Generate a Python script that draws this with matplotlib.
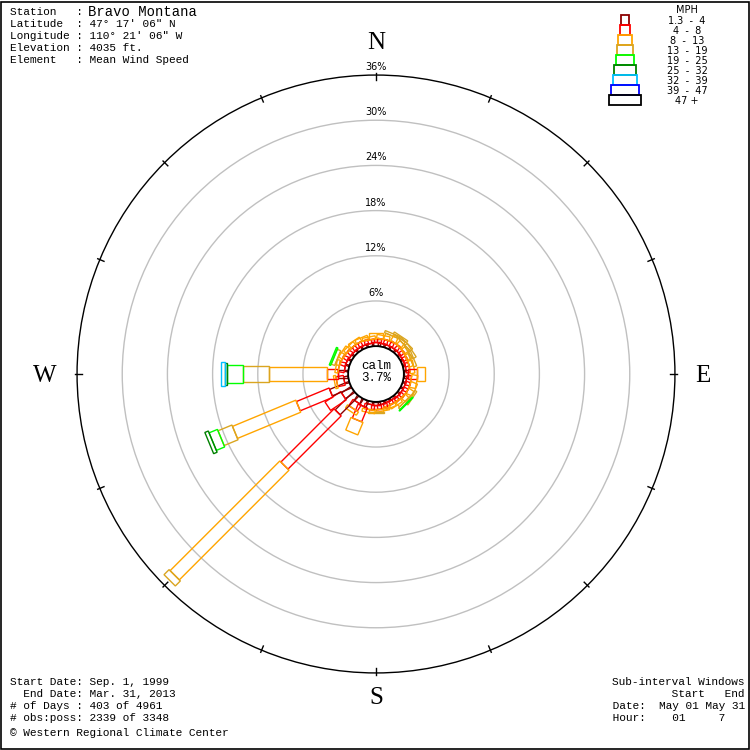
import numpy as np
import matplotlib.pyplot as plt
from matplotlib.patches import Polygon, Circle, Rectangle

# station data
calm = 3.7
directions = np.arange(32) * 11.25
speed_labels = ['1.3 - 4', '4 - 8', '8 - 13', '13 - 19', '19 - 25',
                '25 - 32', '32 - 39', '39 - 47', '47 +']
colors = ['#8b0000', '#ff0000', '#ffa500', '#daa520', '#00ff00',
          '#008000', '#00bfff', '#0000ff', '#000000']
box_width = [0.93, 1.33, 1.73, 2.12, 2.52, 3.05, 3.32, 3.85, 4.25]

# percent of obs per direction for each speed class
s1 = [0.5, 0.4, 0.4, 0.4, 0.4, 0.3, 0.3, 0.3, 0.5, 0.4, 0.4, 0.4, 0.4, 0.3, 0.3, 0.4,
      0.4, 0.4, 0.9, 0.8, 3.5, 1.5, 2.77, 0.6, 1.35, 0.5, 0.5, 0.4, 0.4, 0.4, 0.4, 0.4]
s2 = [0.5, 0.6, 0.6, 0.7, 0.6, 0.6, 0.5, 0.5, 1.3, 0.6, 0.6, 0.6, 0.5, 0.5, 0.5, 0.6,
      0.6, 0.7, 2.0, 1.0, 10.0, 2.5, 4.7, 1.0, 1.45, 0.8, 0.7, 0.7, 0.6, 0.6, 0.6, 0.5]
s3 = [0.8, 0.5, 0.8, 0.9, 0.7, 0.6, 0.5, 0.6, 1.0, 0.8, 0.9, 0.8, 0.7, 0.5, 0.4, 0.3,
      0.3, 0.4, 1.8, 0.5, 20.6, 0.0, 9.1, 0.3, 7.7, 0.4, 0.6, 0.6, 0.5, 0.6, 0.5, 0.4]
s4 = [0.0, 0.0, 0.3, 0.3, 0.4, 0.5, 0.4, 0.0, 0.0, 0.0, 0.0, 0.3, 0.3, 0.0, 0.0, 0.0,
      0.2, 0.0, 0.0, 0.0, 0.95, 0.0, 2.0, 0.0, 3.45, 0.0, 0.5, 0.0, 0.0, 0.0, 0.0, 0.0]
s5 = [0, 0, 0, 0, 0, 0, 0, 0, 0, 0, 0, 0, 0.1, 0, 0, 0,
      0, 0, 0, 0, 0, 0, 1.2, 0, 2.13, 0, 0.2, 0, 0, 0, 0, 0]
s6 = [0, 0, 0, 0, 0, 0, 0, 0, 0, 0, 0, 0, 0, 0, 0, 0,
      0, 0, 0, 0, 0, 0, 0.5, 0, 0.3, 0, 0, 0, 0, 0, 0, 0]
s7 = [0, 0, 0, 0, 0, 0, 0, 0, 0, 0, 0, 0, 0, 0, 0, 0,
      0, 0, 0, 0, 0, 0, 0, 0, 0.45, 0, 0, 0, 0, 0, 0, 0]
s8 = [0] * 32
s9 = [0] * 32
speeds = [s1, s2, s3, s4, s5, s6, s7, s8, s9]

rings = [6, 12, 18, 24, 30, 36]
mono = 'Liberation Mono'

fig = plt.figure(figsize=(7.5, 7.5), dpi=100)
ax = fig.add_axes([0, 0, 1, 1])
scale = 7.53  # px per percent
ax.set_xlim(-376 / scale, 374 / scale)
ax.set_ylim(-376 / scale, 374 / scale)
ax.set_aspect('equal')
ax.axis('off')

# rings
for r in rings:
    col = 'black' if r == rings[-1] else '#c0c0c0'
    ax.add_patch(Circle((0, 0), calm + r, fill=False, ec=col, lw=1))
    ax.text(0, calm + r + 0.4, f'{r}%', ha='center', va='bottom',
            fontsize=7, family='DejaVu Sans')

# ticks on outer ring
R = calm + rings[-1]
for a in np.arange(0, 360, 22.5):
    t = np.radians(a)
    ax.plot([(R + 0.3) * np.sin(t), (R - 0.6) * np.sin(t)],
            [(R + 0.3) * np.cos(t), (R - 0.6) * np.cos(t)], color='black', lw=1)

# rose boxes
for i, d in enumerate(directions):
    t = np.radians(d)
    u = np.array([np.sin(t), np.cos(t)])
    v = np.array([np.cos(t), -np.sin(t)])
    cum = 0
    for k in range(len(speeds)):
        p = speeds[k][i]
        if p <= 0:
            continue
        ra, rb = calm + cum, calm + cum + p
        w = box_width[k] / 2
        pts = [u * ra + v * w, u * rb + v * w, u * rb - v * w, u * ra - v * w]
        ax.add_patch(Polygon(pts, closed=True, fill=False, ec=colors[k], lw=1))
        cum += p

ax.add_patch(Circle((0, 0), calm, fc='white', ec='black', lw=1.3, zorder=5))
ax.text(0, 0.3, 'calm', ha='center', va='bottom', fontsize=9, family=mono, zorder=6)
ax.text(0, 0.2, f'{calm}%', ha='center', va='top', fontsize=9, family=mono, zorder=6)

# compass letters
for lab, x, y in [('N', 376, 43), ('S', 376, 698), ('W', 45, 376), ('E', 703, 376)]:
    fig.text(x / 750, 1 - y / 750, lab, ha='center', va='center',
             fontsize=18, family='Liberation Serif')

# header text
hdr = ['Latitude  : 47° 17\' 06" N', 'Longitude : 110° 21\' 06" W',
       'Elevation : 4035 ft.', 'Element   : Mean Wind Speed']
fig.text(10 / 750, 1 - 12 / 750, 'Station   :', family=mono, fontsize=8, va='center')
fig.text(88 / 750, 1 - 12 / 750, 'Bravo Montana', family=mono, fontsize=10, va='center')
for j, line in enumerate(hdr):
    fig.text(10 / 750, 1 - (24 + 12 * j) / 750, line, family=mono, fontsize=8, va='center')

foot = ['Start Date: Sep. 1, 1999', '  End Date: Mar. 31, 2013',
        '# of Days : 403 of 4961', '# obs:poss: 2339 of 3348']
for j, line in enumerate(foot):
    fig.text(10 / 750, 1 - (682 + 12 * j) / 750, line, family=mono, fontsize=8, va='center')
fig.text(10 / 750, 1 - 733 / 750, '© Western Regional Climate Center', family=mono,
         fontsize=8, va='center')

sub = ['Sub-interval Windows', '         Start   End', ' Date:  May 01 May 31',
       ' Hour:    01     7   ']
for j, line in enumerate(sub):
    fig.text(745 / 750, 1 - (682 + 12 * j) / 750, line, family=mono, fontsize=8,
             va='center', ha='right')

# legend
fig.text(687 / 750, 1 - 10 / 750, 'MPH', ha='center', va='center', fontsize=7)
for k, lab in enumerate(speed_labels):
    w = box_width[k] * scale / 750
    fig.patches.append(Rectangle((625 / 750 - w / 2, 1 - (25 + 10 * k) / 750), w, 10 / 750,
                                 fill=False, ec=colors[k], lw=1.3,
                                 transform=fig.transFigure))
    fig.text(687 / 750, 1 - (21 + 10 * k) / 750, lab.replace(' - ', '  -  '),
             ha='center', va='center', fontsize=7, family='DejaVu Sans')

fig.patches.append(Rectangle((0.001, 0.001), 0.997, 0.997, fill=False, ec='black', lw=1.2,
                             transform=fig.transFigure))

fig.savefig('out.png', dpi=100)
